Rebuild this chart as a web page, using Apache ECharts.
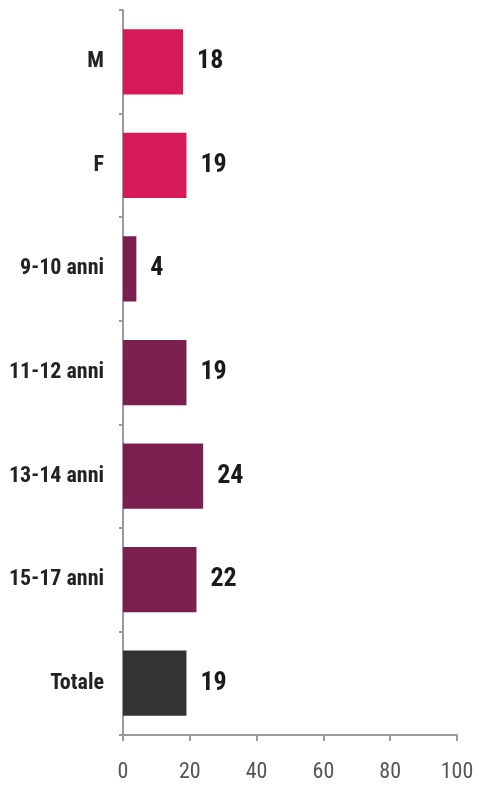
<!DOCTYPE html>
<html>
<head>
<meta charset="utf-8">
<script src="https://cdn.jsdelivr.net/npm/echarts@6/dist/echarts.min.js"></script>
<style>
  html, body { margin: 0; padding: 0; background: #fff; }
  #chart { width: 479px; height: 791px; }
</style>
</head>
<body>
<div id="chart"></div>
<script>
// Categories (top to bottom) and their values
const categories = ['M', 'F', '9-10 anni', '11-12 anni', '13-14 anni', '15-17 anni', 'Totale'];
const values = [18, 19, 4, 19, 24, 22, 19];
const barColors = ['#d61a58', '#d61a58', '#7a1f50', '#7a1f50', '#7a1f50', '#7a1f50', '#333333'];
const xTicks = [0, 20, 40, 60, 80, 100];

const font = '"Liberation Sans Narrow", "Roboto Condensed", "Liberation Sans", sans-serif';

const chart = echarts.init(document.getElementById('chart'));
chart.setOption({
  animation: false,
  backgroundColor: '#ffffff',
  grid: { left: 123, right: 22, top: 10, bottom: 56, containLabel: false },
  xAxis: {
    type: 'value',
    min: xTicks[0],
    max: xTicks[xTicks.length - 1],
    interval: xTicks[1] - xTicks[0],
    splitLine: { show: false },
    axisLine: { show: true, lineStyle: { color: '#9a9a9a', width: 2 } },
    axisTick: { show: true, length: 6, lineStyle: { color: '#9a9a9a', width: 2 } },
    axisLabel: { color: '#555', fontSize: 22, fontFamily: font, margin: 26 }
  },
  yAxis: {
    type: 'category',
    inverse: true,
    data: categories,
    axisLine: { show: true, lineStyle: { color: '#9a9a9a', width: 2 } },
    axisTick: { show: true, length: 4, lineStyle: { color: '#9a9a9a', width: 2 } },
    axisLabel: { color: '#222', fontSize: 22, fontWeight: 'bold', fontFamily: font, margin: 19 }
  },
  series: [{
    type: 'bar',
    barWidth: '63%',
    data: values.map((v, i) => ({ value: v, itemStyle: { color: barColors[i] } })),
    label: {
      show: true,
      position: 'right',
      distance: 14,
      color: '#1a1a1a',
      fontSize: 26,
      fontWeight: 'bold',
      fontFamily: font
    }
  }]
});
</script>
</body>
</html>
